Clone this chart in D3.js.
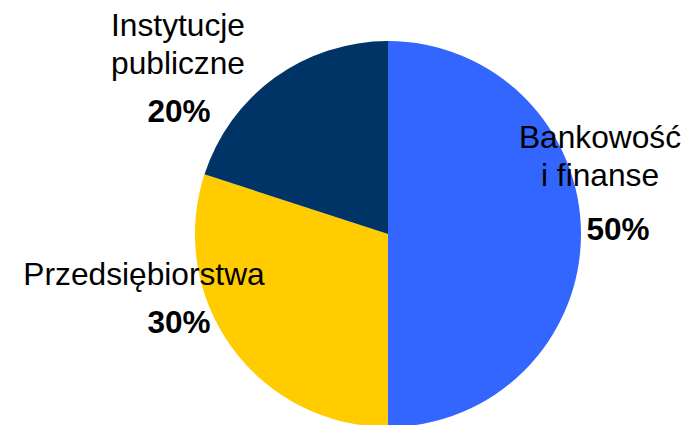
<!DOCTYPE html>
<html>
<head>
<meta charset="utf-8">
<script src="https://cdn.jsdelivr.net/npm/d3@7"></script>
<style>
  body { margin: 0; background: #fff; }
  svg { display: block; font-family: "Liberation Sans", Arial, sans-serif; }
</style>
</head>
<body>
<svg id="chart" width="686" height="425"></svg>
<script>
// chart data
const categories = ["Bankowość\ni finanse", "Przedsiębiorstwa", "Instytucje\npubliczne"];
const shares = [50, 30, 20];
const colors = ["#3366FF", "#FFCC00", "#003366"];

// where each label block sits (name lines then the bold percent)
const labelLayout = [
  { x: 600, y: 148, px: 618, py: 240 },
  { x: 144, y: 285, px: 179, py: 333 },
  { x: 178, y: 36, px: 179, py: 122 }
];

const width = 686;
const height = 425;
const cx = 388;
const cy = 234;
const radius = 193;
const lineHeight = 38;

const svg = d3.select("#chart");

const pie = d3.pie().sort(null).value(function(d) { return d; });
const arc = d3.arc().innerRadius(0).outerRadius(radius);
const color = d3.scaleOrdinal().domain(categories).range(colors);

const slices = pie(shares);

svg.append("g")
  .attr("transform", "translate(" + cx + "," + cy + ")")
  .selectAll("path")
  .data(slices)
  .enter()
  .append("path")
  .attr("d", arc)
  .attr("fill", function(d, i) { return color(categories[i]); });

// labels
const labels = svg.append("g")
  .selectAll("g")
  .data(slices)
  .enter()
  .append("g");

labels.each(function(d, i) {
  const g = d3.select(this);
  const pos = labelLayout[i];
  const lines = categories[i].split("\n");
  const name = g.append("text")
    .attr("text-anchor", "middle")
    .attr("font-size", 31.7)
    .attr("fill", "#000");
  lines.forEach(function(line, j) {
    name.append("tspan")
      .attr("x", pos.x)
      .attr("y", pos.y + j * lineHeight)
      .text(line);
  });
  g.append("text")
    .attr("x", pos.px)
    .attr("y", pos.py)
    .attr("text-anchor", "middle")
    .attr("font-size", 31.5)
    .attr("font-weight", "bold")
    .attr("fill", "#000")
    .text(d.data + "%");
});
</script>
</body>
</html>
